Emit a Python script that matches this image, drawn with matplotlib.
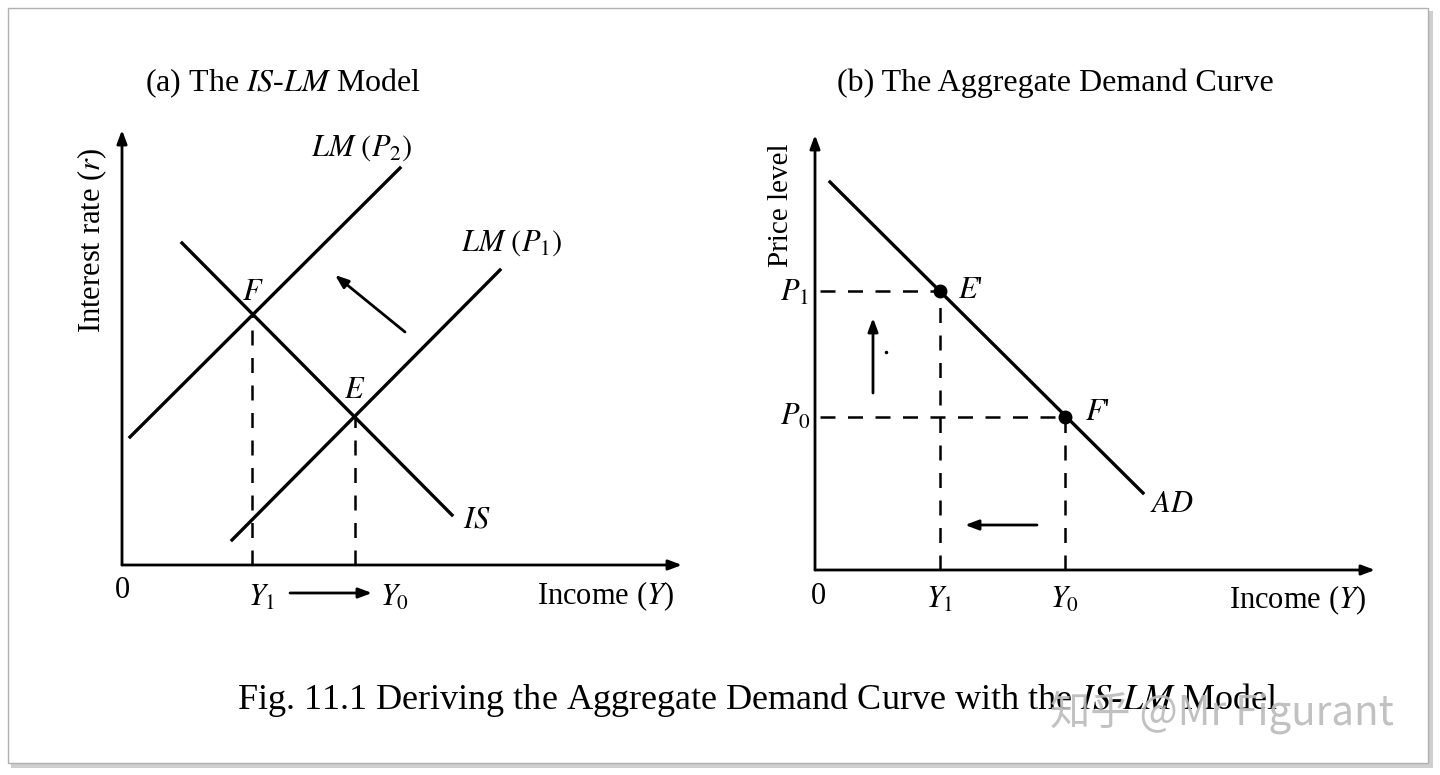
import matplotlib
matplotlib.use("Agg")
import matplotlib.pyplot as plt
from matplotlib.patches import Rectangle

plt.rcParams['font.family'] = ['Liberation Serif', 'DejaVu Serif']
plt.rcParams['mathtext.fontset'] = 'stix'

# Panel (a) IS-LM, axis units
lm2_x = [8, 278];  lm2_y = [128, 397]
lm1_x = [110, 378]; lm1_y = [25, 295]
is_x = [60, 330];  is_y = [322, 50]
F_pt = (130, 250); E_pt = (233, 150)
# Panel (b) AD
ad_x = [15, 328]; ad_y = [388, 77]
E2_pt = (125, 279); F2_pt = (250, 153)

fig = plt.figure(figsize=(14.4, 7.75), dpi=100)
fig.patch.set_facecolor('white')
frame = fig.add_axes([0, 0, 1, 1]); frame.set_xlim(0, 1440); frame.set_ylim(775, 0); frame.axis('off')
frame.add_patch(Rectangle((11, 11), 1422, 757, fc='#cfcfcf', ec='none'))
frame.add_patch(Rectangle((8, 8), 1420, 755, fc='white', ec='#b0b0b0', lw=1))

lw = 2.4
arrowkw = dict(arrowstyle='-|>,head_length=0.8,head_width=0.3', lw=2, color='black', shrinkA=0, shrinkB=0)

def base(ax, xmax, ymax):
    ax.axis('off')
    ax.annotate('', xy=(xmax, 0), xytext=(0, 0), arrowprops=arrowkw)
    ax.annotate('', xy=(0, ymax), xytext=(0, 0), arrowprops=arrowkw)

def T(ax, x, y, s, size=22, **k):
    ax.text(x, y, s, fontsize=size, ha='center', va='center', clip_on=False, **k)

axa = fig.add_axes([62/1440, 135/775, 660/1440, 530/775])
axa.set_xlim(-60, 600); axa.set_ylim(-75, 455)
base(axa, 560, 435)
axa.plot(lm2_x, lm2_y, 'k', lw=lw)
axa.plot(lm1_x, lm1_y, 'k', lw=lw)
axa.plot(is_x, is_y, 'k', lw=lw)
for p in (F_pt, E_pt):
    axa.plot([p[0], p[0]], [0, p[1]], 'k--', lw=1.8, dashes=(6, 5))
axa.annotate('', xy=(213, 290), xytext=(283, 233), arrowprops=arrowkw)
axa.annotate('', xy=(250, -28), xytext=(168, -28), arrowprops=arrowkw)
T(axa, 0, -25, '0')
T(axa, F_pt[0] + 10, -33, r'$\mathit{Y}_1$')
T(axa, E_pt[0] + 40, -33, r'$\mathit{Y}_0$')
T(axa, 483, -31, r'Income ($\mathit{Y}$)')
T(axa, 240, 417, r'$\mathit{LM}\ (\mathit{P}_2)$')
T(axa, 390, 322, r'$\mathit{LM}\ (\mathit{P}_1)$')
T(axa, F_pt[0] + 1, 273, r'$\mathit{F}$')
T(axa, E_pt[0], 175, r'$\mathit{E}$')
T(axa, 355, 45, r'$\mathit{IS}$')
T(axa, -30, 325, r'Interest rate ($\mathit{r}$)', rotation=90)

axb = fig.add_axes([735/1440, 130/775, 660/1440, 535/775])
axb.set_xlim(-80, 580); axb.set_ylim(-75, 460)
base(axb, 560, 435)
axb.plot(ad_x, ad_y, 'k', lw=lw)
for p in (E2_pt, F2_pt):
    axb.plot([5, p[0]], [p[1], p[1]], 'k--', lw=1.8, dashes=(6, 5))
    axb.plot([p[0], p[0]], [0, p[1]], 'k--', lw=1.8, dashes=(6, 5))
    axb.plot(*p, 'ko', ms=9)
axb.annotate('', xy=(58, 252), xytext=(58, 177), arrowprops=arrowkw)
axb.annotate('', xy=(150, 45), xytext=(222, 45), arrowprops=arrowkw)
axb.plot(71, 218, 'k.', ms=3)
T(axb, -20, 277, r'$\mathit{P}_1$')
T(axb, -20, 153, r'$\mathit{P}_0$')
T(axb, 155, 280, r"$\mathit{E}$'")
T(axb, 282, 157, r"$\mathit{F}$'")
T(axb, 357, 65, r'$\mathit{AD}$')
T(axb, 3, -26, '0')
T(axb, E2_pt[0], -30, r'$\mathit{Y}_1$')
T(axb, F2_pt[0], -30, r'$\mathit{Y}_0$')
T(axb, 482, -30, r'Income ($\mathit{Y}$)')
T(axb, -34, 365, 'Price level', size=21, rotation=90)

fig.text(283/1440, 1 - 83/775, r'(a) The $\mathit{IS}$-$\mathit{LM}$ Model', fontsize=23, ha='center', va='center')
fig.text(1055/1440, 1 - 83/775, '(b) The Aggregate Demand Curve', fontsize=23, ha='center', va='center')
fig.text(757/1440, 1 - 700/775, r'Fig. 11.1 Deriving the Aggregate Demand Curve with the $\mathit{IS}$-$\mathit{LM}$ Model',
         fontsize=26, ha='center', va='center')
fig.text(1222/1440, 1 - 712/775, '知乎 @Mr Figurant', fontsize=29, ha='center', va='center', color='#bbbbbb', alpha=0.9,
         family=['Noto Sans CJK SC', 'DejaVu Sans'])

fig.savefig('out.png', dpi=100)
